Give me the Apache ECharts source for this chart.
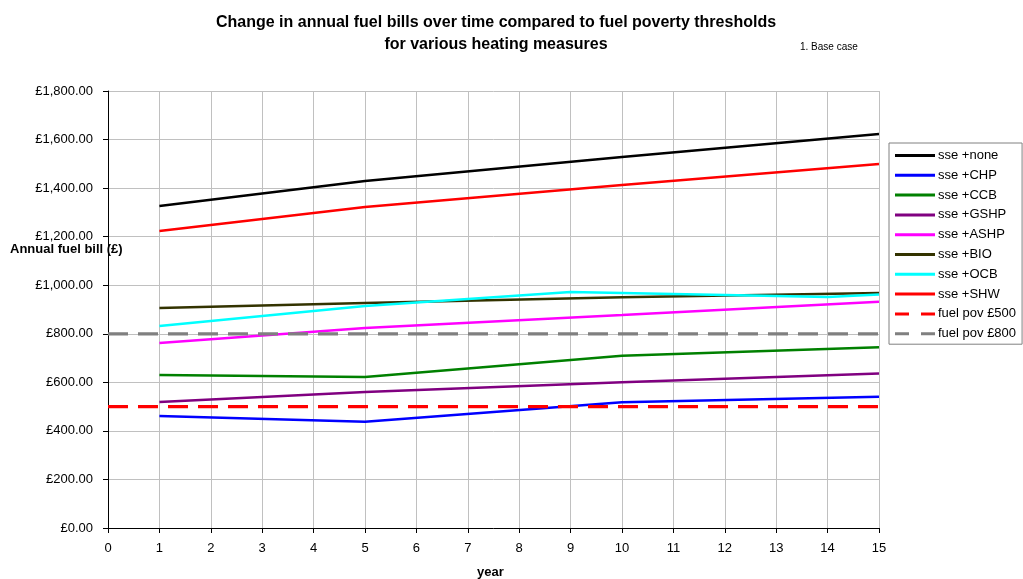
<!DOCTYPE html>
<html><head><meta charset="utf-8">
<script src="https://cdn.jsdelivr.net/npm/echarts@6/dist/echarts.min.js"></script>
<style>html,body{margin:0;padding:0;background:#fff}#c{width:1023px;height:579px}</style>
</head><body><div id="c"></div>
<script>
const titleLines = ['Change in annual fuel bills over time compared to fuel poverty thresholds', 'for various heating measures'];
const subtitle = '1. Base case';
const xTicks = [0,1,2,3,4,5,6,7,8,9,10,11,12,13,14,15];
const years = [1, 5, 10, 15];
const yearsOCB = [1, 5, 9, 10, 14, 15];
const sseNone = [1326, 1429, 1528, 1623];
const sseCHP = [461, 438, 518, 541];
const sseCCB = [630, 622, 709, 745];
const sseGSHP = [519, 560, 600, 636];
const sseASHP = [762, 824, 877, 932];
const sseBIO = [906, 927, 950, 968];
const sseOCB = [832, 914, 972, 968, 951, 962];
const sseSHW = [1223, 1322, 1413, 1499];
const povYears = [0, 15];
const pov500 = [500, 500];
const pov800 = [800, 800];

const names = ['sse +none','sse +CHP','sse +CCB','sse +GSHP','sse +ASHP','sse +BIO','sse +OCB','sse +SHW','fuel pov £500','fuel pov £800'];
const colors = ['#000000','#0000ff','#008000','#800080','#ff00ff','#333300','#00ffff','#ff0000','#ff0000','#808080'];
const xs = [years,years,years,years,years,years,yearsOCB,years,povYears,povYears];
const ys = [sseNone,sseCHP,sseCCB,sseGSHP,sseASHP,sseBIO,sseOCB,sseSHW,pov500,pov800];
const FF = 'Liberation Sans, Arial, sans-serif';

const series = names.map((n,i)=>({
  name:n, type:'line', symbol:'none', animation:false,
  data: xs[i].map((x,j)=>[x, ys[i][j]]),
  lineStyle:{color:colors[i], width: i>=8?3.2:2.5, type: i>=8?[20,10]:'solid'},
  itemStyle:{color:colors[i]},
  z: 2
}));

const chart = echarts.init(document.getElementById('c'));
chart.setOption({
  backgroundColor:'#fff',
  animation:false,
  textStyle:{fontFamily:FF},
  title:{text: titleLines.join('\n'), left:491, textAlign:'center', top:7,
    textStyle:{fontSize:16, fontWeight:'bold', color:'#000', lineHeight:22, fontFamily:FF}},
  graphic:[
    {type:'text', left:800, top:42, style:{text:subtitle, fontSize:10, fill:'#000', fontFamily:FF}},
    {type:'text', left:10, top:243, z:10, style:{text:'Annual fuel bill (£)', fontSize:13, fontWeight:'bold', fill:'#000', fontFamily:FF}},
    {type:'text', left:477, top:566, style:{text:'year', fontSize:13, fontWeight:'bold', fill:'#000', fontFamily:FF}}
  ],
  legend:{orient:'vertical', left:889, top:143, width:134, height:200,
    padding:[6,6,4,6], itemGap:6.8, itemWidth:40, itemHeight:13,
    icon:'path://M0,6 L40,6 L40,9 L0,9 Z',
    borderColor:'#808080', borderWidth:1, backgroundColor:'#fff',
    textStyle:{fontSize:13, color:'#000', padding:[0,0,0,-2]},
    data: names.map((n,i)=> i>=8 ? {name:n, icon:'path://M0,6 L14,6 L14,9 L0,9 Z M26,6 L40,6 L40,9 L26,9 Z'} : {name:n})},
  grid:{left:108, right:144, top:91, bottom:51, containLabel:false},
  xAxis:{type:'value', min:0, max:15, interval:1,
    axisLine:{lineStyle:{color:'#000', width:1}},
    axisTick:{show:true, length:5, lineStyle:{color:'#000'}},
    axisLabel:{color:'#000', fontSize:13, margin:14},
    splitLine:{show:true, lineStyle:{color:'#c0c0c0', width:1}}},
  yAxis:{type:'value', min:0, max:1800, interval:200,
    axisLine:{show:true, lineStyle:{color:'#000', width:1}},
    axisTick:{show:true, length:5, lineStyle:{color:'#000'}},
    axisLabel:{color:'#000', fontSize:13, margin:15,
      formatter:v=>'£'+v.toLocaleString('en-GB',{minimumFractionDigits:2, maximumFractionDigits:2})},
    splitLine:{show:true, lineStyle:{color:'#c0c0c0', width:1}}},
  series: series
});
</script></body></html>
